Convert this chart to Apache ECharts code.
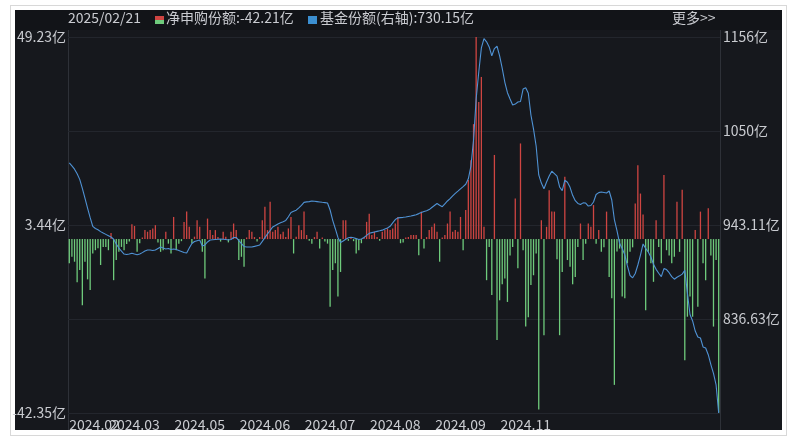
<!DOCTYPE html>
<html><head><meta charset="utf-8">
<script src="https://cdn.jsdelivr.net/npm/echarts@6/dist/echarts.min.js"></script>
<style>
html,body{margin:0;padding:0;background:#fff;}
#frame{position:absolute;left:10px;top:5px;width:777px;height:431px;box-sizing:border-box;border:1px solid #d8d8d8;background:#fff;}
#panel{position:absolute;left:15px;top:10px;width:767px;height:420px;background:#16181d;}
#band{position:absolute;left:15px;top:10px;width:767px;height:20px;background:#121418;}
#c{position:absolute;left:0;top:0;width:800px;height:445px;}
</style>
</head><body>
<div id="frame"></div><div id="panel"></div><div id="band"></div>
<div id="c"></div>
<script>
// 净申购份额 (亿) per trading day
const flowValues = [
 -5.9,-4.3,-5.5,-10.5,-7.5,-16.1,-5.5,-9.8,-12.4,-3.5,
 -2.7,-2.2,-6.3,-1.9,-1.9,-2.7,1.5,-10,-5.1,-3.1,
 -1.9,-2.7,-1.2,-0.6,3.6,3.2,-3.1,-1,0.4,2.2,
 1.8,2.2,2.6,3.4,-0.8,-3.1,-2.7,1.8,-1.1,-3.5,
 5.4,-2.7,-1.1,-0.5,4.2,6.7,3,-1,0.6,4.6,
 3,-3.1,-9.6,5,2.2,1,2.2,0.5,-0.6,1.8,
 0.6,-0.8,1.8,3.8,2.2,-5.1,-4.3,-6.7,0.4,2.2,
 1.8,0.5,-0.6,0.5,4.6,7.9,2.2,9.1,1.8,2.2,
 3,1.2,1.8,0.5,2.6,5.4,-3.5,0.6,3.4,2.2,
 6.7,1,-0.4,-1.1,0.5,1.8,-2.3,0.4,-0.6,-1.1,
 -16.5,-7.5,-5.9,-14,-8,4.6,4.6,-0.4,0.5,-0.5,
 -3.5,-2.7,-1,0.4,4.2,6.2,1,1.8,0.5,-0.4,
 1.8,2.2,2.6,2.2,2.6,3.8,5.4,-1,-0.8,0.4,
 0.5,1,1,1,-3.9,6.7,-2.3,0.5,2.2,3,
 3.8,1.8,-5.5,0.4,1,3.8,6.7,1.8,2.2,1.8,
 5.4,-2.7,7.1,14.4,19.2,28,49.23,33.4,39.5,3,
 -10,-1.9,-13.6,20.5,-24.6,-14.9,-11,-9.6,-15.3,-4,
 -1.9,9.9,-7.1,23.3,-2.7,-21.3,-19,-11.2,-8.8,-3.5,
 -41.5,4.6,-23.4,3,11.9,6.7,6.7,-4.9,-23.4,-8,
 15.2,-5.1,-6.7,-11,-9.2,-1.9,3.8,-5.1,-1.1,3.8,
 3,8.3,-1.1,2.2,-3.1,-2,6.7,-9.2,-14.4,-35.5,
 -3,-2.3,-14,-14.4,-5.9,-3.1,-2,8.7,18,11.1,
 6,-17.3,-3.1,-5.9,-10.4,4.6,-1.9,-5.9,15.6,-2.7,
 -4,-5.9,-4.3,9.1,-3.1,12,-29.5,-18.9,-14,-18.9,
 2.2,-16.5,6.7,-5.9,-10,7.5,-4,-21.3,-5.1,-42.21
];
// 基金份额 (亿, 右轴)
const shareValues = [
 1013.4,1010,1006.3,1001.1,994.8,984.5,973.6,962.3,951.4,941.6,
 939.2,937.7,935.6,934,932.5,931,929.5,927,921.6,917,
 913.6,910.2,909.6,910.2,911.2,910.2,909.3,910.2,911.8,913.6,
 914.8,914.8,914.2,914.8,916.5,918.2,917,915.9,916.5,915.3,
 915.9,915.3,914.2,913.1,912,911.4,917,922.2,924.4,925.3,
 926.1,919.3,920.5,923.9,926.1,926.4,926.7,927,927.3,927,
 926.6,926.1,926.7,929,929,925.4,922,918.8,918.2,918.2,
 918.2,918.9,919.7,920.5,924.5,928.8,933,936.9,940.9,942.6,
 944.3,945.6,946.9,948.3,952.5,957.2,958.6,959.9,962.6,965.4,
 968.7,969.3,969.6,970.2,970,969.6,969.2,968.8,968.5,968,
 960.1,948.4,938.9,929,923.3,925,927,928.6,929.2,928.6,
 927.7,926.6,927.3,929,931.3,933.7,934.5,935.2,935.9,936.5,
 937.3,938.6,939.8,941.6,945.6,949.3,951.2,951.5,951.8,952.2,
 952.8,953.3,954,954.8,956,957.3,958.4,959.3,960.6,962.9,
 965.2,967.5,965.5,963.9,967.1,970.3,973.1,976.1,979,981.5,
 984.1,986.6,989.3,995.4,1009.9,1039.4,1085.8,1116.4,1143.8,1154.3,
 1150.6,1144.8,1134.8,1143,1145.6,1134.6,1120.5,1104.8,1093,1085.8,
 1079,1080.1,1082.4,1083,1097.1,1098.5,1092.4,1067.7,1051.7,1032.6,
 999.8,990.6,984.2,991.8,998.6,1004,1001.3,998.4,986.2,982.1,
 993.8,991.5,985.8,976.7,970.7,967.5,966.4,968.2,968,964.6,
 965.2,969.2,977.7,979.8,980.5,980,979.4,981.6,971.4,949.3,
 936.8,922.3,916.5,909.3,896.7,885.9,883.3,888.2,897.8,909.1,
 921.6,916.6,912.5,906.9,898.7,892.9,888.5,884.6,893.7,892.6,
 889.1,884.6,881.7,883.9,885.5,887.5,891.9,866,841.7,834.4,
 823,816.2,815.1,805,803.8,796.2,785,775,761.9,730.15
];
// x tick labels, one every tickStep trading days
const xTickLabels = ['2024.02','2024.03','2024.05','2024.06','2024.07','2024.08','2024.09','2024.11','',''];
const tickStep = 25;
const categories = flowValues.map((_, i) => 'D' + i);
// axis ranges and tick labels
const leftRange = [-42.35, 49.23, 45.79];
const leftTickLabels = ['-42.35亿','3.44亿','49.23亿'];
const rightRange = [730.15, 1156.07, 106.48];
const rightTickLabels = ['', '836.63亿', '943.11亿', '1050亿', '1156亿'];
const headerDate = '2025/02/21';
const headerFlow = '净申购份额:-42.21亿';
const headerShare = '基金份额(右轴):730.15亿';

const FONT = '"Noto Sans CJK SC", "Noto Sans", sans-serif';
const TXT = '#c9cbd0';
const RED = '#cf4542';
const GREEN = '#6fcb7c';
const BLUE = '#4f92d4';

const baseX = {
  type: 'category', data: categories, boundaryGap: true, position: 'bottom',
  axisLine: {show: false}, axisTick: {show: false}, splitLine: {show: false}
};

const chart = echarts.init(document.getElementById('c'), null, {renderer: 'canvas'});
chart.setOption({
  animation: false,
  backgroundColor: 'transparent',
  textStyle: {fontFamily: FONT},
  grid: {left: 68, right: 80, top: 37, bottom: 32},
  xAxis: [
    Object.assign({}, baseX, {
      axisLabel: {
        interval: tickStep - 1, color: TXT, fontSize: 14, margin: 5, fontFamily: FONT,
        hideOverlap: false,
        formatter: (v, i) => (i === 0 ? '' : (xTickLabels[Math.round(i / tickStep)] || ''))
      }
    }),
    Object.assign({}, baseX, {
      axisLabel: {
        interval: 100000, color: TXT, fontSize: 14, margin: 5, fontFamily: FONT,
        showMinLabel: true, alignMinLabel: 'left',
        formatter: (v, i) => (i === 0 ? xTickLabels[0] : '')
      }
    })
  ],
  yAxis: [
    {
      type: 'value', position: 'left',
      min: leftRange[0], max: leftRange[1], interval: leftRange[2],
      axisLine: {show: false}, axisTick: {show: false}, splitLine: {show: false},
      axisLabel: {color: TXT, fontSize: 14, margin: 2, fontFamily: FONT,
        formatter: v => leftTickLabels[Math.round((v - leftRange[0]) / leftRange[2])] || ''}
    },
    {
      type: 'value', position: 'right',
      min: rightRange[0], max: rightRange[1], interval: rightRange[2],
      axisLine: {show: false}, axisTick: {show: false},
      splitLine: {show: true, lineStyle: {color: '#23262d', width: 1}},
      axisLabel: {color: TXT, fontSize: 14, margin: 3, fontFamily: FONT,
        formatter: v => rightTickLabels[Math.round((v - rightRange[0]) / rightRange[2])] || ''}
    }
  ],
  series: [
    {
      type: 'bar', data: flowValues, barWidth: 1.3, xAxisIndex: 0, yAxisIndex: 0,
      itemStyle: {color: p => (p.value >= 0 ? RED : GREEN)}
    },
    {
      type: 'line', data: shareValues, xAxisIndex: 0, yAxisIndex: 1, symbol: 'none',
      lineStyle: {color: BLUE, width: 1.1}, z: 3
    }
  ],
  graphic: [
    {type: 'line', shape: {x1: 68.5, y1: 30, x2: 68.5, y2: 430}, style: {stroke: '#2e3138', lineWidth: 1}, silent: true},
    {type: 'line', shape: {x1: 720.5, y1: 30, x2: 720.5, y2: 430}, style: {stroke: '#2e3138', lineWidth: 1}, silent: true},
    {type: 'text', left: 68, top: 11, style: {text: headerDate, fill: TXT, font: '14px ' + FONT}},
    {type: 'rect', shape: {x: 155, y: 16, width: 9, height: 4}, style: {fill: RED}},
    {type: 'rect', shape: {x: 155, y: 20, width: 9, height: 4}, style: {fill: GREEN}},
    {type: 'text', left: 166, top: 11, style: {text: headerFlow, fill: TXT, font: '14px ' + FONT}},
    {type: 'rect', shape: {x: 308, y: 16, width: 9, height: 8}, style: {fill: '#3b8fd0'}},
    {type: 'text', left: 320, top: 11, style: {text: headerShare, fill: TXT, font: '14px ' + FONT}},
    {type: 'text', left: 672, top: 11, style: {text: '更多>>', fill: TXT, font: '14px ' + FONT}}
  ]
});
</script>
</body></html>
